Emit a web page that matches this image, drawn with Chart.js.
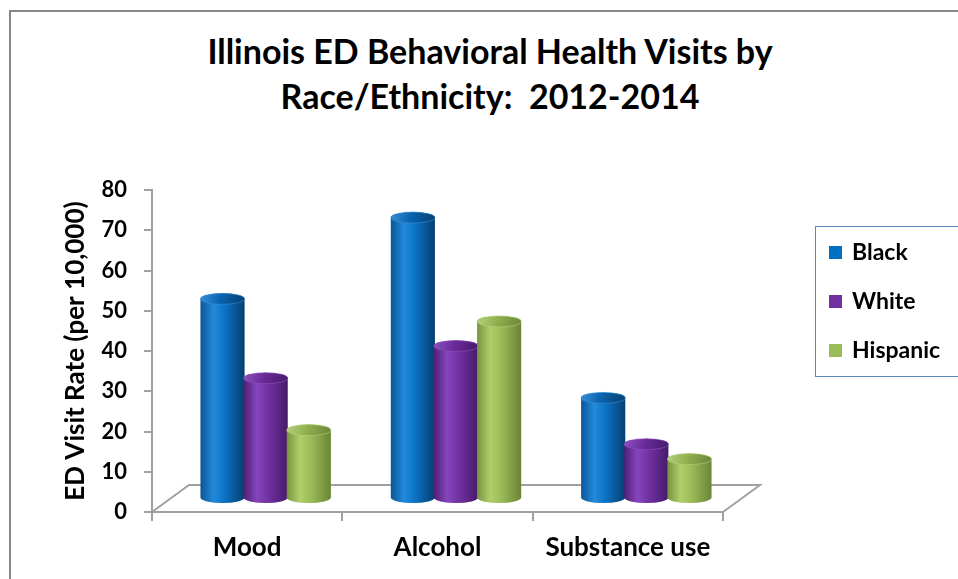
<!DOCTYPE html>
<html>
<head>
<meta charset="utf-8">
<script src="https://cdn.jsdelivr.net/npm/chart.js@4"></script>
<style>
  html, body { margin: 0; padding: 0; background: #fff; }
  #wrap { position: relative; width: 958px; height: 579px; overflow: hidden; font-family: Lato, "Open Sans", sans-serif; }
  #frame { position: absolute; left: 9px; top: 10px; width: 1200px; height: 1200px;
           border-left: 2px solid #878787; border-top: 2px solid #878787; }
  #title { position: absolute; left: 0; top: 28px; width: 980px; text-align: center;
           font-weight: bold; font-size: 34px; line-height: 45px; color: #000; }
  #chart { position: absolute; left: 0; top: 0; }
  #legend { position: absolute; left: 815px; top: 226px; width: 220px; height: 149px;
            border: 1.5px solid #5a86c2; }
  .key { position: absolute; left: 829px; width: 13px; height: 13px; }
  .lab { position: absolute; left: 852px; font-weight: bold; font-size: 23px; line-height: 23px; color: #000; white-space: nowrap; }
</style>
</head>
<body>
<div id="wrap">
  <div id="frame"></div>
  <div id="title">Illinois ED Behavioral Health Visits by<br>Race/Ethnicity:&nbsp; 2012-2014</div>
  <canvas id="chart" width="958" height="579"></canvas>
  <div id="legend"></div>
</div>
<script>
// Behavioral health ED visit rates per 10,000, 2012-2014
const categories = ['Mood', 'Alcohol', 'Substance use'];
const seriesNames = ['Black', 'White', 'Hispanic'];
const blackRates = [49.6, 69.8, 25.0];
const whiteRates = [29.9, 37.9, 13.5];
const hispanicRates = [17.0, 44.0, 9.8];
const yTickMin = 0, yTickMax = 80, yTickStep = 10;

const seriesColors = ['#0070C0', '#7030A0', '#9BBB59'];
// shading for the cylinder bodies: left edge, highlight, mid, right edge, cap
const shades = [
  { l: '#0a5697', hi: '#2389db', mid: '#0c72c4', r: '#063f70', cap: '#0a63ae', capHi: '#3a90d8' },
  { l: '#4f1f76', hi: '#8645bc', mid: '#7231a3', r: '#461a69', cap: '#6a2b99', capHi: '#8d52c0' },
  { l: '#78933f', hi: '#b0cf6a', mid: '#9bbb59', r: '#6a8436', cap: '#90b04f', capHi: '#b5d27a' }
];

const GRAY = '#a0a0a0';
const DEPTH_X = 37, DEPTH_Y = -27;   // floor depth offset
const CAP_RY = 5.5;                  // vertical radius of cylinder ellipses
const FONT = 'Lato, "Open Sans", sans-serif';

function drawCylinder(ctx, cx, top, base, rx, ry, s) {
  const l = cx - rx, r = cx + rx;
  const g = ctx.createLinearGradient(l, 0, r, 0);
  g.addColorStop(0, s.l);
  g.addColorStop(0.3, s.hi);
  g.addColorStop(0.55, s.mid);
  g.addColorStop(1, s.r);
  ctx.beginPath();
  ctx.moveTo(l, top);
  ctx.lineTo(l, base);
  ctx.ellipse(cx, base, rx, ry, 0, Math.PI, 0, true);
  ctx.lineTo(r, top);
  ctx.ellipse(cx, top, rx, ry, 0, 0, Math.PI, true);
  ctx.closePath();
  ctx.fillStyle = g;
  ctx.fill();
  // top cap
  const cg = ctx.createLinearGradient(l, top - ry, r, top + ry);
  cg.addColorStop(0, s.capHi);
  cg.addColorStop(0.45, s.cap);
  cg.addColorStop(1, s.r);
  ctx.beginPath();
  ctx.ellipse(cx, top, rx, ry, 0, 0, Math.PI * 2);
  ctx.fillStyle = cg;
  ctx.fill();
  ctx.lineWidth = 1;
  ctx.strokeStyle = s.capHi;
  ctx.globalAlpha = 0.6;
  ctx.stroke();
  ctx.globalAlpha = 1;
}

const floor3d = {
  id: 'floor3d',
  beforeDatasetsDraw(chart) {
    const { ctx, chartArea: a, scales: { y } } = chart;
    const y0 = y.getPixelForValue(0);
    ctx.save();
    ctx.strokeStyle = GRAY;
    ctx.lineWidth = 2;
    ctx.beginPath();
    ctx.moveTo(a.left, y0);
    ctx.lineTo(a.left + DEPTH_X, y0 + DEPTH_Y);
    ctx.lineTo(a.right + DEPTH_X, y0 + DEPTH_Y);
    ctx.lineTo(a.right, y0);
    ctx.stroke();
    ctx.restore();
  }
};

const cylinders = {
  id: 'cylinders',
  afterDatasetsDraw(chart) {
    const ctx = chart.ctx;
    ctx.save();
    ctx.translate(DEPTH_X / 2, DEPTH_Y / 2);
    chart.data.datasets.forEach((ds, i) => {
      chart.getDatasetMeta(i).data.forEach(bar => {
        const p = bar.getProps(['x', 'y', 'base', 'width'], true);
        drawCylinder(ctx, p.x, p.y, p.base, p.width / 2 + 0.5, CAP_RY, shades[i]);
      });
    });
    ctx.restore();
  }
};

function buildLegend() {
  const wrap = document.getElementById('wrap');
  const rowTops = [240, 289, 338];
  seriesNames.forEach((name, i) => {
    const k = document.createElement('div');
    k.className = 'key';
    k.style.top = (rowTops[i] + 6) + 'px';
    k.style.background = seriesColors[i];
    wrap.appendChild(k);
    const t = document.createElement('div');
    t.className = 'lab';
    t.style.top = rowTops[i] + 'px';
    t.textContent = name;
    wrap.appendChild(t);
  });
}

function draw() {
  buildLegend();
  new Chart(document.getElementById('chart'), {
    type: 'bar',
    data: {
      labels: categories,
      datasets: [blackRates, whiteRates, hispanicRates].map((vals, i) => ({
        label: seriesNames[i],
        data: vals,
        backgroundColor: 'rgba(0,0,0,0)',
        borderWidth: 0,
        categoryPercentage: 0.68,
        barPercentage: 1.0
      }))
    },
    options: {
      responsive: false,
      animation: false,
      layout: { padding: { left: 39, right: 235, top: 190, bottom: 0 } },
      plugins: {
        legend: { display: false },
        title: { display: false },
        tooltip: { enabled: false }
      },
      scales: {
        x: {
          grid: { display: true, drawOnChartArea: false, drawTicks: true, tickLength: 9, color: GRAY, lineWidth: 2, offset: true },
          border: { display: true, color: GRAY, width: 2 },
          ticks: { color: '#000', font: { family: FONT, weight: 'bold', size: 26 }, padding: 11, maxRotation: 0 },
          afterFit(s) { s.height = 67; }
        },
        y: {
          min: yTickMin,
          max: yTickMax,
          ticks: { stepSize: yTickStep, color: '#000', font: { family: FONT, weight: 'bold', size: 22 }, padding: 17 },
          grid: { display: true, drawOnChartArea: false, drawTicks: true, tickLength: 8, color: GRAY, lineWidth: 2 },
          border: { display: true, color: GRAY, width: 2 },
          title: {
            display: true,
            text: 'ED Visit Rate (per 10,000)',
            color: '#000',
            font: { family: FONT, weight: 'bold', size: 26 },
            padding: { top: 21, bottom: 0 }
          },
          afterFit(s) { s.width = 113; }
        }
      }
    },
    plugins: [floor3d, cylinders]
  });
}

if (document.fonts && document.fonts.load) {
  Promise.all([document.fonts.load('bold 26px Lato'), document.fonts.load('bold 22px Lato')])
    .then(draw, draw);
} else {
  draw();
}
</script>
</body>
</html>
